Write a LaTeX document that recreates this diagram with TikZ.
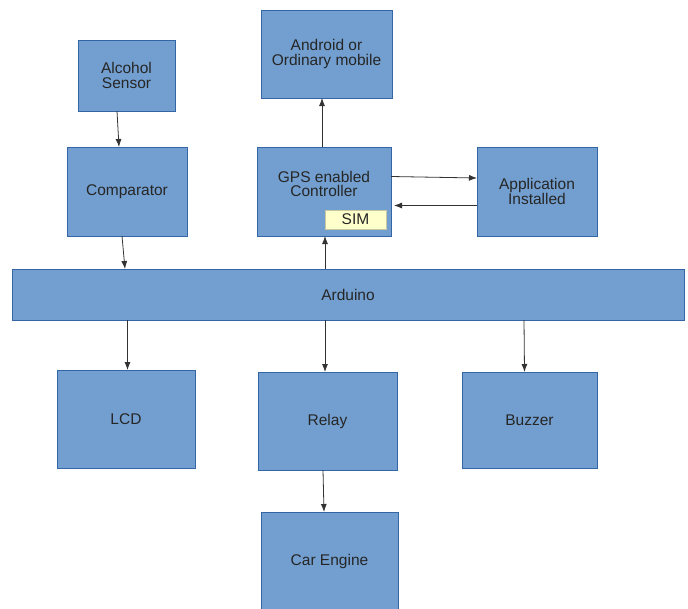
\documentclass[tikz,border=0pt]{standalone}
\usepackage{fontspec}
\setmainfont{Liberation Sans}
\usetikzlibrary{arrows.meta}
\definecolor{boxfill}{HTML}{729FCF}
\definecolor{boxline}{HTML}{3465A4}
\definecolor{simfill}{HTML}{FFFFCC}
\definecolor{simline}{HTML}{C8C8A0}
\definecolor{arrcol}{HTML}{333333}
\tikzset{
  blk/.style={draw=boxline, fill=boxfill, line width=0.7pt, inner sep=0pt, outer sep=0pt,
    align=center, font=\fontsize{15.5}{15}\selectfont, text=black!85},
  arr/.style={draw=arrcol, line width=0.8pt, -{Latex[length=8pt,width=6pt]}},
}
\begin{document}
\begin{tikzpicture}[x=1pt,y=-1pt]
\useasboundingbox (0,0) rectangle (688,608);
\clip (0,0) rectangle (688,608);
\node[blk, minimum width=97pt, minimum height=71pt] (alc) at (126.5,75.5) {Alcohol\\Sensor};
\node[blk, minimum width=120pt, minimum height=89pt] (comp) at (127,191.5) {Comparator};
\node[blk, minimum width=131pt, minimum height=88pt] (andr) at (326.5,54) {Android or\\Ordinary mobile};
\node[blk, minimum width=134pt, minimum height=89pt] (gps) at (324,191.5) {};
\node[font=\fontsize{15.5}{14.5}\selectfont, align=center, text=black!85, inner sep=0pt] (gpst) at (324,184) {GPS enabled\\Controller};
\node[draw=simline, fill=simfill, line width=0.5pt, minimum width=61pt, minimum height=19pt, inner sep=0pt,
  font=\fontsize{15.5}{15}\selectfont, text=black!85] (sim) at (355.5,219.5) {SIM};
\node[blk, minimum width=120pt, minimum height=89pt] (app) at (537,191.5) {Application\\Installed};
\node[blk, minimum width=672pt, minimum height=51pt] (ard) at (348,294.5) {Arduino};
\node[blk, minimum width=138pt, minimum height=98pt] (lcd) at (126,419) {LCD};
\node[blk, minimum width=139pt, minimum height=98pt] (relay) at (327.5,421) {Relay};
\node[blk, minimum width=135pt, minimum height=96pt] (buzz) at (529.5,420) {Buzzer};
\node[blk, minimum width=137pt, minimum height=98pt] (car) at (329.5,561) {Car Engine};

\draw[arr] ([xshift=-9.5pt]alc.south) -- ([xshift=-8pt]comp.north);
\draw[arr] ([xshift=-5pt]comp.south) -- ([xshift=-223pt]ard.north);
\draw[arr] ([xshift=-2pt]gps.north) -- ([xshift=-4.5pt]andr.south);
\draw[arr] ([yshift=15pt]gps.east) -- ([yshift=13.5pt]app.west);
\draw[arr] ([yshift=-14pt]app.west) -- ([xshift=3pt,yshift=-14pt]gps.east);
\draw[arr] ([xshift=-23pt]ard.north) -- ([xshift=1pt]gps.south);
\draw[arr] ([xshift=-220.5pt]ard.south) -- ([xshift=1.5pt]lcd.north);
\draw[arr] ([xshift=-23pt]ard.south) -- ([xshift=-2.5pt]relay.north);
\draw[arr] ([xshift=176pt]ard.south) -- ([xshift=-5pt]buzz.north);
\draw[arr] ([xshift=-4.5pt]relay.south) -- ([xshift=-5.5pt]car.north);
\end{tikzpicture}
\end{document}
